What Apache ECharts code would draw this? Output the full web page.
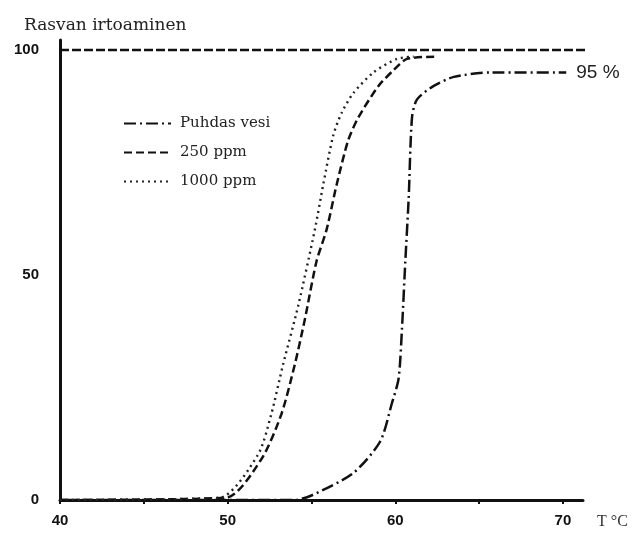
<!DOCTYPE html>
<html><head><meta charset="utf-8">
<script src="https://cdn.jsdelivr.net/npm/echarts@6/dist/echarts.min.js"></script>
<style>html,body{margin:0;padding:0;background:#fff}#c{width:634px;height:534px}</style>
</head><body><div id="c"></div>
<script>
const titleText = "Rasvan irtoaminen";
const seriesNames = ["Puhdas vesi", "250 ppm", "1000 ppm"];
const xTicks = [40, 50, 60, 70];
const yTicks = [0, 50, 100];
const puhdasT = [40, 54, 55, 57.5, 59.1, 59.8, 60.2, 60.4, 60.6, 60.8, 61.0, 61.3, 62.3, 63.5, 65.7, 70.2];
const puhdasY = [0, 0, 1, 6, 13, 21.5, 27, 38, 53, 67, 85, 89, 92, 94, 95, 95];
const ppm250T = [40, 49.9, 52, 53.2, 54, 54.6, 55.3, 55.9, 56.5, 57.2, 57.8, 59, 59.9, 60.7, 62.4];
const ppm250Y = [0, 0.5, 9, 19, 30, 40, 53, 60, 70, 80, 85, 92, 95.5, 98, 98.5];
const ppm1000T = [40, 49.5, 51.8, 52.6, 53.3, 54.2, 55.2, 55.7, 56.3, 56.8, 57.5, 58.7, 60.1, 61.1];
const ppm1000Y = [0, 0.5, 10, 19, 30, 43, 60, 70, 81, 86, 90.4, 95, 98, 98.5];
const refLineT = [40, 71.6];
const refLineY = [100, 100];
const endLabelText = "95 %";

const zip = (a, b) => a.map((v, i) => [v, b[i]]);
const chart = echarts.init(document.getElementById('c'));
const ink = '#111';
chart.setOption({
  animation: false,
  backgroundColor: '#fff',
  title: { text: titleText, left: 19, top: 12,
    textStyle: { fontFamily: 'DejaVu Serif', fontSize: 17, fontWeight: 'normal', color: '#222' } },
  legend: {
    orient: 'vertical', left: 118, top: 111, itemWidth: 47, itemHeight: 14, itemGap: 14,
    data: seriesNames,
    itemStyle: { opacity: 0 },
    textStyle: { fontFamily: 'DejaVu Serif', fontSize: 15, color: '#222', padding: [0, 0, 0, 4] }
  },
  grid: { left: 60, right: 51, top: 40, bottom: 34, containLabel: false },
  xAxis: {
    type: 'value', min: 40, max: 71.2, interval: 5,
    name: 'T °C', nameLocation: 'end', nameGap: 14,
    nameTextStyle: { fontFamily: 'Liberation Serif', fontSize: 16, color: '#333', verticalAlign: 'top', padding: [14, 0, 0, 0] },
    axisLine: { lineStyle: { color: ink, width: 3 } },
    axisTick: { show: true, length: 4, lineStyle: { color: ink, width: 2 } },
    splitLine: { show: false },
    axisLabel: { margin: 13, showMaxLabel: false,
      formatter: v => (xTicks.includes(v) ? String(v) : ''),
      fontFamily: 'Liberation Sans', fontWeight: 'bold', fontSize: 15, color: '#111' }
  },
  yAxis: {
    type: 'value', min: 0, max: 102.2, interval: 50,
    axisLine: { show: true, lineStyle: { color: ink, width: 3 } },
    axisTick: { show: false },
    splitLine: { show: false },
    axisLabel: { margin: 21, showMaxLabel: false,
      formatter: v => (yTicks.includes(v) ? String(v) : ''),
      fontFamily: 'Liberation Sans', fontWeight: 'bold', fontSize: 15, color: '#111' }
  },
  series: [
    { name: seriesNames[0], type: 'line', showSymbol: false, symbol: 'none', smooth: 0.25,
      data: zip(puhdasT, puhdasY),
      lineStyle: { color: ink, width: 2.5, type: [12, 4, 2, 4] },
      itemStyle: { color: ink },
      endLabel: { show: true, formatter: endLabelText, distance: 10,
        fontFamily: 'Liberation Sans', fontSize: 19, color: '#222' } },
    { name: seriesNames[1], type: 'line', showSymbol: false, symbol: 'none', smooth: 0.25,
      data: zip(ppm250T, ppm250Y),
      lineStyle: { color: ink, width: 2.5, type: [8, 4] }, itemStyle: { color: ink } },
    { name: seriesNames[2], type: 'line', showSymbol: false, symbol: 'none', smooth: 0.25,
      data: zip(ppm1000T, ppm1000Y),
      lineStyle: { color: '#222', width: 2.4, type: [2, 4] }, itemStyle: { color: ink } },
    { name: 'ref', type: 'line', showSymbol: false, symbol: 'none', silent: true,
      data: zip(refLineT, refLineY),
      lineStyle: { color: ink, width: 2.5, type: [9, 3] } }
  ]
});
</script></body></html>
